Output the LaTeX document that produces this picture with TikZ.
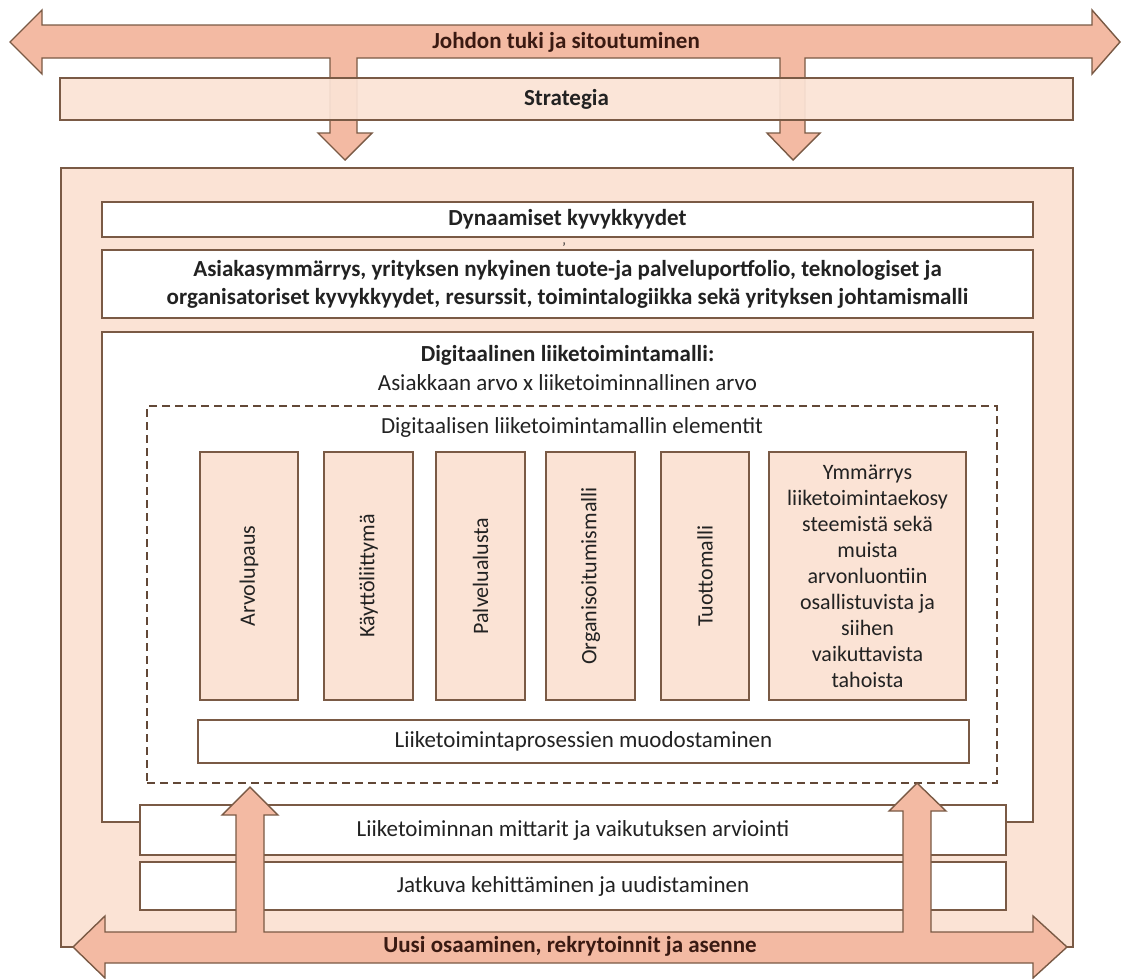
\documentclass[tikz,border=0pt]{standalone}
\usepackage{fontspec}
\setmainfont{Carlito}
\definecolor{brd}{HTML}{7A5A45}
\definecolor{arrowfill}{HTML}{F3BAA3}
\definecolor{peach}{HTML}{FBE3D5}
\definecolor{txtc}{HTML}{222222}
\definecolor{darktxt}{HTML}{3A1A12}
\tikzset{
  box/.style={draw=brd, line width=1.4pt, inner sep=0pt, minimum width=#1},
  wbox/.style={box=#1, fill=white},
  pbox/.style={box=#1, fill=peach},
  dashbox/.style={draw=brd!80!black, line width=1.1pt, dash pattern=on 8pt off 5pt, inner sep=0pt, minimum width=#1},
  big/.style={arrowfill, draw=brd, line width=1.4pt, line join=miter},
  txt/.style={font=\fontsize{23}{28}\selectfont, text=txtc, inner sep=0pt},
  btxt/.style={font=\fontsize{23}{28}\selectfont\bfseries, text=txtc, inner sep=0pt},
  rtxt/.style={font=\fontsize{22}{26}\selectfont, text=txtc, inner sep=0pt, rotate=90}
}
\begin{document}
\begin{tikzpicture}[x=1pt,y=-1pt]
\useasboundingbox (0,0) rectangle (1121,978);
% top double arrow with two downward stems
\path[big, fill=arrowfill] (10,42) -- (42,10) -- (42,25) -- (1092,25) -- (1092,10) -- (1120,42) -- (1092,74) -- (1092,58)
  -- (805,58) -- (805,133) -- (820,133) -- (793,160) -- (767,133) -- (780,133) -- (780,58)
  -- (357,58) -- (357,133) -- (372,133) -- (345,160) -- (318,133) -- (330,133) -- (330,58)
  -- (42,58) -- (42,74) -- cycle;
\node[btxt, text=darktxt] (johdon) at (566,42) {Johdon tuki ja sitoutuminen};
% strategia
\node[box=1013, minimum height=42, fill=peach, fill opacity=0.93, text opacity=1] (strat) at (566.5,99) {};
\node[btxt] (strattxt) at (strat) {Strategia};
% outer frame
\node[pbox=1012, minimum height=779] (frame) at (567,557.5) {};
% dynamic capabilities
\node[wbox=931, minimum height=35] (dyn) at (567.5,219.5) {};
\node[btxt] (dyntxt) at (dyn) {Dynaamiset kyvykkyydet};
\node[txt, font=\fontsize{14}{14}\selectfont] (mark) at (564,248) {’};
\node[wbox=931, minimum height=68] (asia) at (567.5,284) {};
\node[btxt, align=center] (asiatxt) at (asia) {Asiakasymmärrys, yrityksen nykyinen tuote-ja palveluportfolio, teknologiset ja\\organisatoriset kyvykkyydet, resurssit, toimintalogiikka sekä yrityksen johtamismalli};
% digital business model
\node[wbox=931, minimum height=490] (digi) at (567.5,577) {};
\node[btxt] (digit1) at (567.5,355) {Digitaalinen liiketoimintamalli:};
\node[txt] (digit2) at (567.5,383) {Asiakkaan arvo x liiketoiminnallinen arvo};
\node[dashbox=850, minimum height=377] (dash) at (572,594.5) {};
\node[txt] (dashtxt) at (572,427) {Digitaalisen liiketoimintamallin elementit};
% elements
\node[pbox=98, minimum height=248] (e1) at (249,576) {};
\node[pbox=89, minimum height=248] (e2) at (368.5,576) {};
\node[pbox=89, minimum height=248] (e3) at (480.5,576) {};
\node[pbox=89, minimum height=248] (e4) at (590.5,576) {};
\node[pbox=88, minimum height=248] (e5) at (705,576) {};
\node[pbox=197, minimum height=248] (e6) at (867.5,576) {};
\node[rtxt] (e1t) at (e1) {Arvolupaus};
\node[rtxt] (e2t) at (e2) {Käyttöliittymä};
\node[rtxt] (e3t) at (e3) {Palvelualusta};
\node[rtxt] (e4t) at (e4) {Organisoitumismalli};
\node[rtxt] (e5t) at (e5) {Tuottomalli};
\node[txt, font=\fontsize{22}{26}\selectfont, align=center] (e6t) at (e6) {Ymmärrys\\liiketoimintaekosy\\steemistä sekä\\muista\\arvonluontiin\\osallistuvista ja\\siihen\\vaikuttavista\\tahoista};
\node[wbox=771, minimum height=43] (proc) at (583.5,741.5) {};
\node[txt] (proctxt) at (proc) {Liiketoimintaprosessien muodostaminen};
% measures and development
\node[wbox=866, minimum height=50] (mitt) at (573,830) {};
\node[txt] (mitttxt) at (mitt) {Liiketoiminnan mittarit ja vaikutuksen arviointi};
\node[wbox=866, minimum height=48] (jatk) at (573,886) {};
\node[txt] (jatktxt) at (jatk) {Jatkuva kehittäminen ja uudistaminen};
% bottom double arrow with two upward stems
\path[big, fill=arrowfill] (73,947) -- (105,916) -- (105,932) -- (236,932) -- (236,815) -- (222,815) -- (250,787) -- (278,815) -- (264,815) -- (264,932)
  -- (903,932) -- (903,811) -- (889,811) -- (917,783) -- (946,811) -- (931,811) -- (931,932)
  -- (1033,932) -- (1033,916) -- (1067,947) -- (1033,978) -- (1033,963) -- (105,963) -- (105,978) -- cycle;
\node[btxt, text=darktxt] (uusi) at (570,946) {Uusi osaaminen, rekrytoinnit ja asenne};
\end{tikzpicture}
\end{document}
